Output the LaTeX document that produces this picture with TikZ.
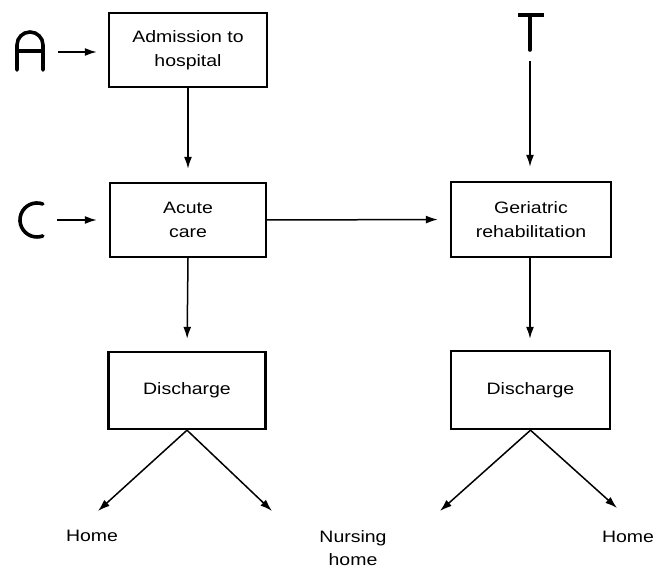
\documentclass[tikz,border=0pt]{standalone}
\usepackage{fontspec}
\setmainfont{Liberation Sans}[FakeStretch=1.18]
\usetikzlibrary{arrows.meta}
\begin{document}
\begin{tikzpicture}[x=1pt,y=-1pt,
  box/.style={draw,line width=2.4pt,minimum width=#1,inner sep=0pt,align=center,font=\fontsize{16.5}{24}\selectfont},
  arr/.style={line width=1.5pt,-{Latex[length=12pt,width=8pt]}},
  lbl/.style={align=center,font=\fontsize{16.5}{23}\selectfont,inner sep=0pt},
  glyph/.style={line width=3.6pt,line cap=round}]
\useasboundingbox (0,0) rectangle (665,569);
\node[box=158pt,minimum height=74pt] (adm) at (188,50) {Admission to\\hospital};
\node[box=156pt,minimum height=74pt] (acute) at (188,220) {Acute\\care};
\node[box=160pt,minimum height=75pt] (ger) at (531,219.5) {Geriatric\\rehabilitation};
\node[box=157pt,minimum height=77pt] (dis1) at (187,390.5) {Discharge};
\node[box=159pt,minimum height=78pt] (dis2) at (530.5,390) {Discharge};
\node[lbl] (home1) at (92,536) {Home};
\node[lbl] (nh) at (353,548) {Nursing\\home};
\node[lbl] (home2) at (628,537) {Home};
% letters
\draw[glyph] (17,70) -- (17,45) arc[start angle=180,end angle=360,radius=13] -- (43,70);
\draw[glyph] (17,51) -- (43,51);
\draw[glyph] (42.8,204) arc[start angle=-70,end angle=-290,radius=17];
\draw[glyph,line cap=butt] (518,15) -- (544,15);
\draw[glyph] (530,15) -- (530,50);
% coordinates
\coordinate (aS) at (58,52);
\coordinate (cS) at (57,220);
\coordinate (tS) at (530,61);
\coordinate (d1L) at (98,511);
\coordinate (d1R) at (272,511);
\coordinate (d2L) at (440,511);
\coordinate (d2R) at (617,508);
% arrows
\draw[arr,shorten >=11pt] (aS) -- (aS -| adm.west);
\draw[arr,shorten >=12pt] (cS) -- (acute.west);
\draw[arr,shorten >=13pt] (adm.south) -- (acute.north);
\draw[arr,shorten >=12pt] (acute.east) -- (ger.west);
\draw[arr,shorten >=14pt] (tS) -- (tS |- ger.north);
\draw[arr,shorten >=12pt] (acute.south) -- (dis1.north);
\draw[arr,shorten >=11pt] (ger.south -| tS) -- (dis2.north -| tS);
\draw[arr] (dis1.south) -- (d1L);
\draw[arr] (dis1.south) -- (d1R);
\draw[arr] (dis2.south) -- (d2L);
\draw[arr] (dis2.south) -- (d2R);
\end{tikzpicture}
\end{document}
